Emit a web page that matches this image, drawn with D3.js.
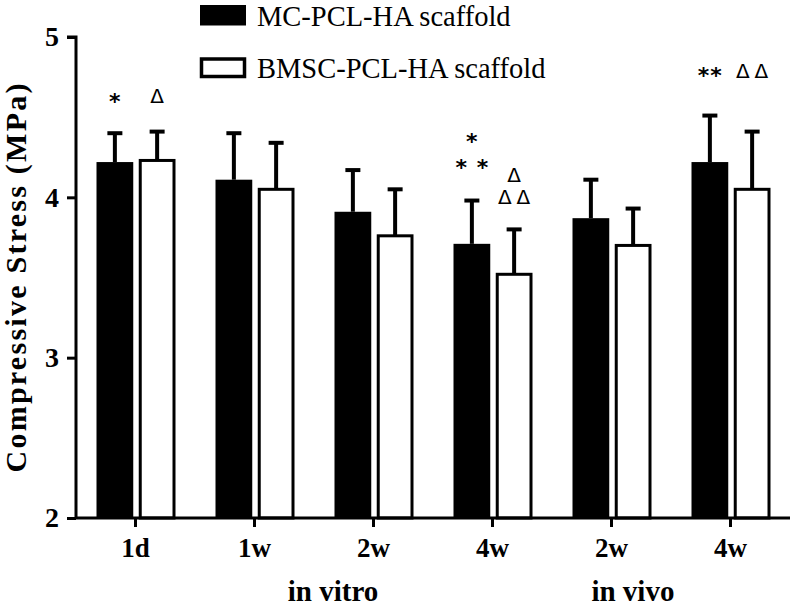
<!DOCTYPE html>
<html><head><meta charset="utf-8">
<script src="https://cdn.jsdelivr.net/npm/d3@7"></script>
<style>body{margin:0;background:#fff}</style>
</head><body>
<svg id="c" width="792" height="612"></svg>
<script>
const categories = ["1d","1w","2w","4w","2w","4w"];
const series = ["MC-PCL-HA scaffold","BMSC-PCL-HA scaffold"];
const mcMean = [4.22,4.11,3.91,3.71,3.87,4.22];
const mcErr  = [0.18,0.29,0.26,0.27,0.24,0.29];
const bmMean = [4.23,4.05,3.76,3.52,3.70,4.05];
const bmErr  = [0.18,0.29,0.29,0.28,0.23,0.36];
const yTicks = [2,3,4,5];
const groupLabels = [{text:"in vitro", at:1.66},{text:"in vivo", at:4.18}];
// annotations: category index, series index, value position, text
const annotations = [
  {cat:0, s:0, v:4.63, t:"*"},
  {cat:0, s:1, v:4.63, t:"Δ"},
  {cat:3, s:0, v:4.38, t:"*"},
  {cat:3, s:0, v:4.22, t:"* *"},
  {cat:3, s:1, v:4.14, t:"Δ"},
  {cat:3, s:1, v:4.00, t:"ΔΔ"},
  {cat:5, s:0, v:4.79, t:"**"},
  {cat:5, s:1, v:4.79, t:"ΔΔ"}
];

const svg = d3.select("#c");
const serif = "'Liberation Serif','Times New Roman',serif";
const x = d3.scaleBand().domain(d3.range(categories.length)).range([76,790]).paddingInner(0).paddingOuter(0);
const y = d3.scaleLinear().domain([2,5]).range([518,37]);
const x1 = d3.scaleBand().domain([0,1]).range([-39,40]).paddingInner(0.13);

const data = categories.map((c,i)=>[
  {i, s:0, m:mcMean[i], e:mcErr[i]},
  {i, s:1, m:bmMean[i], e:bmErr[i]}
]).flat();

// error bars (one-sided, upward)
const cx = d => x(d.i) + x.bandwidth()/2 + x1(d.s) + x1.bandwidth()/2;
const eg = svg.append("g");
eg.selectAll("line.v").data(data).join("line")
  .attr("x1",cx).attr("x2",cx).attr("y1",d=>y(d.m)).attr("y2",d=>y(d.m+d.e))
  .attr("stroke","#000").attr("stroke-width",4);
eg.selectAll("line.c").data(data).join("line")
  .attr("x1",d=>cx(d)-7.5).attr("x2",d=>cx(d)+7.5).attr("y1",d=>y(d.m+d.e)).attr("y2",d=>y(d.m+d.e))
  .attr("stroke","#000").attr("stroke-width",4);

// bars
svg.append("g").selectAll("rect").data(data).join("rect")
  .attr("x",d=>x(d.i)+x.bandwidth()/2+x1(d.s)+(d.s?1.5:0))
  .attr("width",d=>x1.bandwidth()-(d.s?3:0))
  .attr("y",d=>y(d.m))
  .attr("height",d=>y(2)-y(d.m))
  .attr("fill",d=>d.s?"#fff":"#000")
  .attr("stroke",d=>d.s?"#000":"none")
  .attr("stroke-width",3);

// y axis
const ya = svg.append("g").attr("transform","translate(76,0)")
  .call(d3.axisLeft(y).tickValues(yTicks).tickSize(9).tickPadding(8).tickFormat(d3.format("d")));
ya.select(".domain").attr("stroke-width",3).attr("d",`M-9,${y(5)}H0V${y(2)}`);
ya.selectAll(".tick line").attr("stroke-width",3);
ya.selectAll(".tick text").attr("font-family",serif).attr("font-weight","bold").attr("font-size",28).attr("fill","#000");

// x axis
const xa = svg.append("g").attr("transform",`translate(0,${y(2)})`)
  .call(d3.axisBottom(x).tickSize(9).tickPadding(11).tickFormat(i=>categories[i]));
xa.select(".domain").attr("stroke-width",3).attr("d",`M76,0H790`);
xa.selectAll(".tick line").attr("stroke-width",3);
xa.selectAll(".tick text").attr("font-family",serif).attr("font-weight","bold").attr("font-size",27).attr("fill","#000");

// group labels
svg.append("g").selectAll("text").data(groupLabels).join("text")
  .attr("x",d=>x(0)+x.step()*(d.at+0.5)).attr("y",601).attr("text-anchor","middle")
  .attr("font-family",serif).attr("font-weight","bold").attr("font-size",29).text(d=>d.text);

// y label
svg.append("text").attr("transform","translate(26,278) rotate(-90)").attr("text-anchor","middle")
  .attr("font-family",serif).attr("font-weight","bold").attr("font-size",30)
  .attr("textLength",389).attr("lengthAdjust","spacing").text("Compressive Stress (MPa)");

// annotations
const isStar = d => d.t[0]==="*";
const ag = svg.append("g");
ag.selectAll("text").data(annotations).join("text")
  .attr("x",d=>x(d.cat)+x.bandwidth()/2+x1(d.s)+x1.bandwidth()/2 + (isStar(d)?0.5:2.5))
  .attr("y",d=>y(d.v) + (isStar(d)?12.5:7))
  .attr("text-anchor","middle")
  .attr("font-family","'DejaVu Sans',sans-serif")
  .attr("font-weight",d=>isStar(d)?"bold":"normal")
  .attr("font-size",d=>isStar(d)?22:20)
  .attr("letter-spacing",d=>isStar(d)?1:5)
  .text(d=>d.t);

// legend
const lg = svg.append("g");
series.forEach((s,k)=>{
  const yy = 5 + k*52.5;
  lg.append("rect").attr("x",k?201.5:200).attr("y",k?yy+1.5:yy).attr("width",k?43:46).attr("height",k?17.5:20.5)
    .attr("fill",k?"#fff":"#000").attr("stroke",k?"#000":"none").attr("stroke-width",3.5);
  lg.append("text").attr("x",257).attr("y",yy+20.5).attr("font-family",serif).attr("font-size",28.5).text(s);
});
</script>
</body></html>
